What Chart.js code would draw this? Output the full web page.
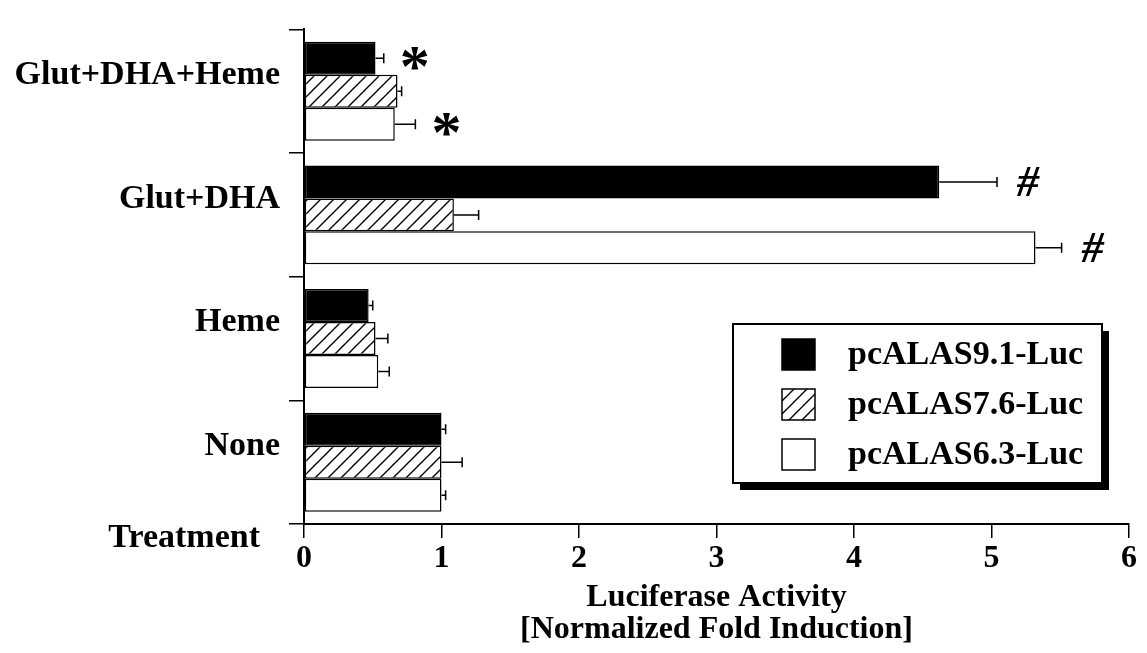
<!DOCTYPE html>
<html>
<head>
<meta charset="utf-8">
<script src="https://cdn.jsdelivr.net/npm/chart.js@4.4.0/dist/chart.umd.min.js"></script>
<style>
  html, body { margin: 0; padding: 0; background: #fff; }
  #wrap { width: 1147px; height: 653px; }
</style>
</head>
<body>
<div id="wrap"><canvas id="myChart" width="1147" height="653"></canvas></div>
<script>
// data (top to bottom)
const treatments = ['Glut+DHA+Heme', 'Glut+DHA', 'Heme', 'None'];
const seriesNames = ['pcALAS9.1-Luc', 'pcALAS7.6-Luc', 'pcALAS6.3-Luc'];
const luc91 = [0.52, 4.62, 0.47, 1.00];
const err91 = [0.06, 0.42, 0.03, 0.03];
const luc76 = [0.68, 1.09, 0.52, 1.00];
const err76 = [0.03, 0.18, 0.09, 0.15];
const luc63 = [0.66, 5.32, 0.54, 1.00];
const err63 = [0.15, 0.19, 0.08, 0.03];
const marks91 = ['*', '#', '', ''];
const marks76 = ['', '', '', ''];
const marks63 = ['*', '#', '', ''];
const xTicks = [0, 1, 2, 3, 4, 5, 6];

const serif = "'Liberation Serif', 'Times New Roman', serif";

const ctx = document.getElementById('myChart').getContext('2d');

function makeHatch() {
    const s = 13;
    const c = document.createElement('canvas');
    c.width = s; c.height = s;
    const g = c.getContext('2d');
    g.fillStyle = '#fff';
    g.fillRect(0, 0, s, s);
    g.strokeStyle = '#000';
    g.lineWidth = 1.4;
    g.beginPath();
    g.moveTo(-1, s + 1); g.lineTo(s + 1, -1);
    g.moveTo(-2, 2); g.lineTo(2, -2);
    g.moveTo(s - 2, s + 2); g.lineTo(s + 2, s - 2);
    g.stroke();
    return ctx.createPattern(c, 'repeat');
}
const hatch = makeHatch();

const extras = {
    id: 'extras',
    afterDatasetsDraw(chart) {
        const c = chart.ctx;
        const area = chart.chartArea;
        c.save();
        // error bars (right side only) and significance marks
        chart.data.datasets.forEach((ds, di) => {
            const meta = chart.getDatasetMeta(di);
            meta.data.forEach((bar, i) => {
                const xe = chart.scales.x.getPixelForValue(ds.data[i] + ds.errors[i]);
                c.strokeStyle = '#000';
                c.lineWidth = 1.5;
                c.beginPath();
                c.moveTo(bar.x, bar.y);
                c.lineTo(xe, bar.y);
                c.moveTo(xe, bar.y - 5);
                c.lineTo(xe, bar.y + 5);
                c.stroke();
                const m = ds.marks[i];
                if (m) {
                    c.fillStyle = '#000';
                    c.font = m === '*' ? 'bold 60px ' + serif : 'bold italic 44px ' + serif;
                    c.textAlign = 'center';
                    c.textBaseline = 'alphabetic';
                    const tm = c.measureText(m);
                    const base = bar.y + (tm.actualBoundingBoxAscent - tm.actualBoundingBoxDescent) / 2;
                    c.fillText(m, xe + 31, base);
                }
            });
        });

        // "Treatment" label under the category axis
        c.fillStyle = '#000';
        c.font = 'bold 34px ' + serif;
        c.textAlign = 'right';
        c.textBaseline = 'middle';
        c.fillText('Treatment', area.left - 44, area.bottom + 14);

        // legend box with drop shadow
        const lx = area.right - 396, ly = area.bottom - 200, lw = 369, lh = 159;
        c.fillStyle = '#000';
        c.fillRect(lx + 7, ly + 7, lw, lh);
        c.fillStyle = '#fff';
        c.fillRect(lx, ly, lw, lh);
        c.lineWidth = 2;
        c.strokeStyle = '#000';
        c.strokeRect(lx, ly, lw, lh);
        chart.data.datasets.forEach((ds, di) => {
            const cy = ly + 30 + di * 50;
            c.fillStyle = ds.backgroundColor;
            c.fillRect(lx + 49, cy - 15, 33, 31);
            c.lineWidth = 1.5;
            c.strokeRect(lx + 49, cy - 15, 33, 31);
            c.fillStyle = '#000';
            c.font = 'bold 34px ' + serif;
            c.textAlign = 'left';
            c.textBaseline = 'middle';
            c.fillText(ds.label, lx + 115, cy + 1);
        });
        c.restore();
    }
};

const myChart = new Chart(ctx, {
    type: 'bar',
    data: {
        labels: treatments,
        datasets: [
            { label: seriesNames[0], data: luc91, errors: err91, marks: marks91, backgroundColor: '#000' },
            { label: seriesNames[1], data: luc76, errors: err76, marks: marks76, backgroundColor: hatch },
            { label: seriesNames[2], data: luc63, errors: err63, marks: marks63, backgroundColor: '#fff' }
        ]
    },
    options: {
        indexAxis: 'y',
        responsive: false,
        animation: false,
        maintainAspectRatio: false,
        datasets: {
            bar: {
                borderColor: '#000',
                borderWidth: 1.5,
                borderSkipped: false,
                categoryPercentage: 0.8,
                barPercentage: 1.0
            }
        },
        layout: { padding: { top: 16, right: 18, left: 0, bottom: 0 } },
        scales: {
            x: {
                min: 0,
                max: 6,
                afterFit: (s) => { s.height = 129; },
                afterBuildTicks: (s) => { s.ticks = xTicks.map(v => ({ value: v })); },
                border: { display: true, color: '#000', width: 2 },
                grid: { display: true, drawOnChartArea: false, drawTicks: true, tickLength: 14, color: '#000', lineWidth: 1.5 },
                ticks: { color: '#000', padding: 2, maxRotation: 0, font: { family: serif, size: 32, weight: 'bold' } },
                title: {
                    display: true,
                    text: ['Luciferase Activity', '[Normalized Fold Induction]'],
                    color: '#000',
                    padding: { top: 0, bottom: 7 },
                    font: { family: serif, size: 32, weight: 'bold', lineHeight: 1 }
                }
            },
            y: {
                afterFit: (s) => { s.width = 304; },
                border: { display: true, color: '#000', width: 2 },
                grid: { display: true, offset: true, drawOnChartArea: false, drawTicks: true, tickLength: 15, color: '#000', lineWidth: 1.5 },
                ticks: { color: '#000', padding: 9, labelOffset: -16, font: { family: serif, size: 34, weight: 'bold' } }
            }
        },
        plugins: {
            legend: { display: false },
            title: { display: false },
            tooltip: { enabled: false }
        }
    },
    plugins: [extras]
});
</script>
</body>
</html>
